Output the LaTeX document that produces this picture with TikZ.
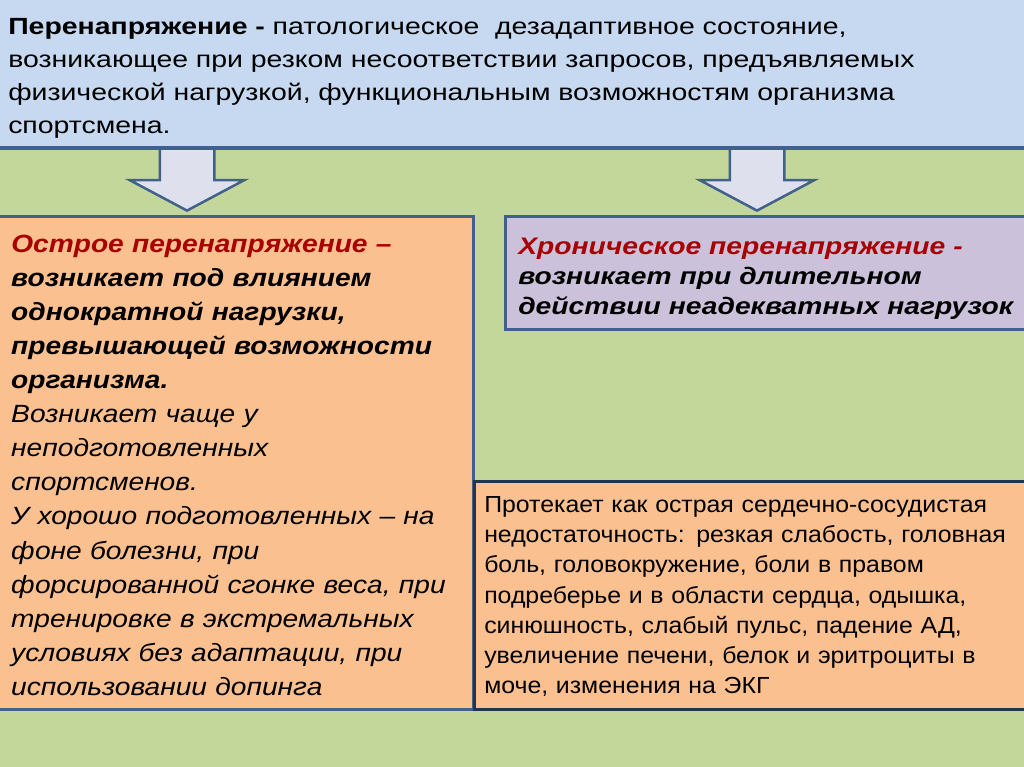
\documentclass[tikz,border=0pt]{standalone}
\usepackage{fontspec}
\setmainfont{Liberation Sans}
\newfontfamily\deffont{Liberation Sans}[FakeStretch=1.215]
\newfontfamily\acutefont{Liberation Sans}[FakeStretch=1.13]
\newfontfamily\chronfont{Liberation Sans}[FakeStretch=1.18]
\newfontfamily\signfont{Liberation Sans}[FakeStretch=1.07]
\usetikzlibrary{shapes.arrows}

\definecolor{fieldgreen}{HTML}{C4D79B}
\definecolor{defblue}{HTML}{C6D9F1}
\definecolor{boxorange}{HTML}{FAC090}
\definecolor{boxlilac}{HTML}{CCC1DA}
\definecolor{edgeblue}{HTML}{41618A}
\definecolor{edgenavy}{HTML}{22354A}
\definecolor{termred}{HTML}{A80000}
\definecolor{arrowfill}{HTML}{DFE0EE}

\begin{document}
\begin{tikzpicture}[x=1bp, y=-1bp,
    panel/.style={draw=edgeblue, line width=2.5bp, anchor=north west, align=left},
    downarrow/.style={single arrow, draw=edgeblue, line width=2.5bp, fill=arrowfill,
        rotate=-90, inner xsep=0pt, inner ysep=26bp, single arrow head extend=30bp,
        single arrow tip angle=124, minimum width=74bp, minimum height=74bp, anchor=tip}]
        % Page and background
        \clip (0,0) rectangle (1024,767);
        \fill[fieldgreen] (0,0) rectangle (1024,767);

        % Down arrows
        \node[downarrow] (arrowA) at (187,212) {};
        \node[downarrow] (arrowB) at (757,212) {};

        % Definition
        \node[panel, fill=defblue, draw=none, inner xsep=17bp, inner ysep=8bp,
              text width=1010bp, font=\deffont\fontsize{23.5}{33.3}\selectfont]
            (defbox) at (-10,-10)
            {\rule{0pt}{35bp}\textbf{Перенапряжение -} патологическое\ \ дезадаптивное состояние,\\
             возникающее при резком несоответствии запросов, предъявляемых\\
             физической нагрузкой, функциональным возможностям организма\\
             спортсмена.};
        \draw[edgeblue, line width=4bp] (defbox.south west) -- (defbox.south east);

        % Acute form
        \node[panel, fill=boxorange, inner xsep=16bp, text width=446bp, minimum height=493bp,
              font=\acutefont\fontsize{25}{34.2}\selectfont\bfseries\itshape]
            (acute) at (-6,215)
            {\rule{0pt}{22.5bp}{\color{termred}Острое перенапряжение –}\\
             возникает под влиянием\\
             однократной нагрузки,\\
             превышающей возможности\\
             организма.\\
             \mdseries Возникает чаще у\\
             неподготовленных\\
             спортсменов.\\
             У хорошо подготовленных – на\\
             фоне болезни, при\\
             форсированной сгонке веса, при\\
             тренировке в экстремальных\\
             условиях без адаптации, при\\
             использовании допинга};

        % Chronic form
        \node[panel, fill=boxlilac, inner xsep=13bp, text width=530bp, minimum height=113bp,
              font=\chronfont\fontsize{24}{30}\selectfont\bfseries\itshape]
            (chronic) at (504,215)
            {\rule{0pt}{28bp}{\color{termred}Хроническое перенапряжение -}\\
             возникает при длительном\\
             действии неадекватных нагрузок};

        % Signs of the acute form
        \node[panel, fill=boxorange, draw=edgenavy, inner xsep=10bp, text width=545bp,
              minimum height=228bp, font=\signfont\fontsize{23.3}{30.3}\selectfont]
            (signs) at (473,480)
            {\rule{0pt}{18.7bp}Протекает как острая сердечно-сосудистая\\
             недостаточность: резкая слабость, головная\\
             боль, головокружение, боли в правом\\
             подреберье и в области сердца, одышка,\\
             синюшность, слабый пульс, падение АД,\\
             увеличение печени, белок и эритроциты в\\
             моче, изменения на ЭКГ};
\end{tikzpicture}
\end{document}
